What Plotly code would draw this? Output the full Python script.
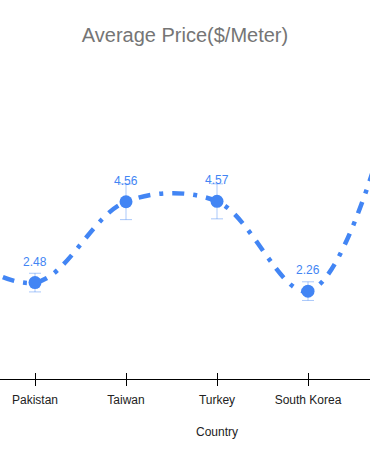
import plotly.graph_objects as go

countries = ["India", "Pakistan", "Taiwan", "Turkey", "South Korea", "Vietnam"]
avg_price = [3.5, 2.48, 4.56, 4.57, 2.26, 7.6]
price_err = [0.3, 0.24, 0.46, 0.45, 0.24, 0.4]
labels = [f"{v:.2f}" for v in avg_price]
x_title = "Country"

BLUE = "#4285F4"

fig = go.Figure()
fig.add_trace(go.Scatter(
    x=countries, y=avg_price,
    mode="lines+markers",
    line=dict(color=BLUE, width=4.5, shape="spline", dash="12px,9px,4px,9px"),
    marker=dict(color=BLUE, size=13),
    error_y=dict(type="data", array=price_err, visible=True,
                 color="rgba(66,133,244,0.45)", thickness=1, width=6),
    showlegend=False, hoverinfo="x+y",
))
# invisible trace on overlay axis for the inward half of the ticks
fig.add_trace(go.Scatter(x=countries, y=avg_price, xaxis="x2", mode="lines",
                         line=dict(width=0), showlegend=False, hoverinfo="skip"))

for c, v, t in zip(countries, avg_price, labels):
    fig.add_annotation(x=c, y=v, text=t, showarrow=False, yshift=21,
                       font=dict(color=BLUE, size=12, family="Liberation Sans, Arial"))

# axis title (centred on the full, partly scrolled-out category span)
fig.add_annotation(x=217 / 370, y=0, xref="paper", yref="paper", text=x_title,
                   showarrow=False, yanchor="middle", yshift=-53,
                   font=dict(size=12, color="#222222", family="Liberation Sans, Arial"))

xr = [1 - 35 / 91, 4 + 62 / 91]
fig.update_layout(
    width=370, height=462,
    margin=dict(l=0, r=0, t=68, b=83),
    paper_bgcolor="white", plot_bgcolor="white",
    font=dict(family="Liberation Sans, Arial", size=12, color="#222222"),
    title=dict(text="Average Price($/Meter)", x=0.5, xanchor="center",
               y=1 - 35 / 462, yanchor="middle", yref="container",
               font=dict(size=20, color="#757575", family="Liberation Sans, Arial")),
    xaxis=dict(range=xr, showgrid=False, zeroline=False, showline=True,
               linecolor="black", linewidth=1, ticks="outside", ticklen=6,
               tickcolor="black", tickfont=dict(size=12, color="#222222"),
               ticklabelstandoff=4, automargin=False),
    xaxis2=dict(range=xr, overlaying="x", matches="x", side="bottom", anchor="y",
                showgrid=False, zeroline=False, showline=False, ticks="inside",
                ticklen=6, tickcolor="black", showticklabels=False),
    yaxis=dict(range=[0, 8], visible=False, showgrid=False, zeroline=False),
)

fig.write_html(
    "out.html",
    config={"displayModeBar": False},
    post_script="document.body.style.margin='0';document.body.style.overflow='hidden';",
)
